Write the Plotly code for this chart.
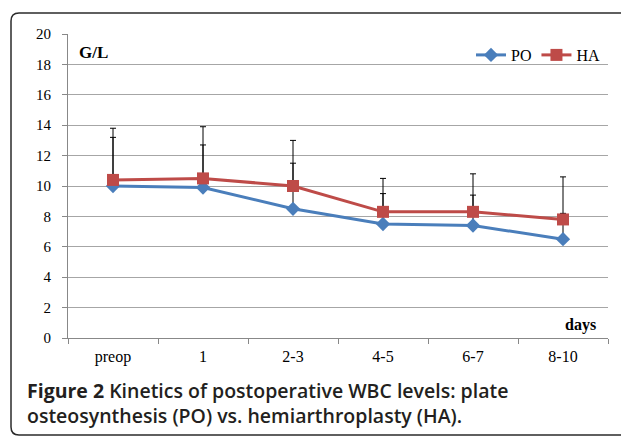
import plotly.graph_objects as go

categories = ["preop", "1", "2-3", "4-5", "6-7", "8-10"]
po_values = [10.0, 9.9, 8.5, 7.5, 7.4, 6.5]
po_err_plus = [3.2, 2.8, 3.0, 2.0, 2.0, 1.7]
ha_values = [10.4, 10.5, 10.0, 8.3, 8.3, 7.8]
ha_err_plus = [3.4, 3.4, 3.0, 2.2, 2.5, 2.8]
y_ticks = list(range(0, 21, 2))

W, H = 621, 436
L, R, T, B = 68, 13, 34, 98
PW, PH = W - L - R, H - T - B

def px(x):
    return (x - L) / PW

def py(y):
    return (H - B - y) / PH

serif = "Liberation Serif, Times New Roman, serif"
sans = "Open Sans, Noto Sans, sans-serif"

fig = go.Figure()
fig.add_trace(go.Scatter(
    x=categories, y=po_values, name="PO", mode="lines+markers",
    line=dict(color="#4a7ebb", width=3),
    marker=dict(symbol="diamond", size=11, color="#4a7ebb"),
    error_y=dict(type="data", array=po_err_plus, arrayminus=[0] * len(po_values),
                 symmetric=False, color="black", thickness=1, width=3),
))
fig.add_trace(go.Scatter(
    x=categories, y=ha_values, name="HA", mode="lines+markers",
    line=dict(color="#be4b48", width=3),
    marker=dict(symbol="square", size=12, color="#be4b48"),
    error_y=dict(type="data", array=ha_err_plus, arrayminus=[0] * len(ha_values),
                 symmetric=False, color="black", thickness=1, width=3),
))

# rounded border
xl, xr, yt, yb, r = 11, 640, 13, 435, 8
path = (f"M {px(xr)},{py(yb)} L {px(xl + r)},{py(yb)} "
        f"Q {px(xl)},{py(yb)} {px(xl)},{py(yb - r)} "
        f"L {px(xl)},{py(yt + r)} Q {px(xl)},{py(yt)} {px(xl + r)},{py(yt)} "
        f"L {px(xr)},{py(yt)}")
fig.add_shape(type="path", path=path, xref="paper", yref="paper",
              line=dict(color="#2b2b2b", width=1.5))

fig.add_annotation(text="<b>G/L</b>", xref="paper", yref="paper",
                   x=px(77), y=py(52), xanchor="left", yanchor="middle",
                   showarrow=False, font=dict(family=serif, size=17, color="black"))
fig.add_annotation(text="<b>days</b>", xref="paper", yref="paper",
                   x=px(598), y=py(325), xanchor="right", yanchor="middle",
                   showarrow=False, font=dict(family=serif, size=16, color="black"))
fig.add_annotation(
    text=("<b>Figure 2</b> Kinetics of postoperative WBC levels: plate<br>"
          "osteosynthesis (PO) vs. hemiarthroplasty (HA)."),
    xref="paper", yref="paper", x=px(25), y=py(403),
    xanchor="left", yanchor="middle", align="left", showarrow=False,
    font=dict(family=sans, size=19.5, color="#231f20", weight=600))

fig.update_layout(
    width=W, height=H,
    margin=dict(l=L, r=R, t=T, b=B),
    paper_bgcolor="white", plot_bgcolor="white",
    showlegend=True,
    legend=dict(orientation="h", x=px(606), y=py(55), xanchor="right",
                yanchor="middle", font=dict(family=serif, size=16, color="black"),
                bgcolor="rgba(0,0,0,0)", itemwidth=30, tracegroupgap=0),
    font=dict(family=serif, color="black"),
)
fig.update_xaxes(
    type="category", range=[-0.5, 5.5], tickson="boundaries",
    ticks="outside", ticklen=5, tickcolor="#888888",
    showline=True, linecolor="#888888", linewidth=1,
    showgrid=False, tickfont=dict(family=serif, size=16, color="black"),
    ticklabelstandoff=4,
)
fig.update_yaxes(
    range=[0, 20], tickvals=y_ticks, ticks="outside", ticklen=5,
    tickcolor="#888888", showline=True, linecolor="#888888", linewidth=1,
    showgrid=True, gridcolor="#a6a6a6", gridwidth=1, zeroline=False,
    tickfont=dict(family=serif, size=15, color="black"),
    ticklabelstandoff=8,
)

fig.write_html("out.html", config={"displayModeBar": False},
               post_script="document.body.style.margin='0';")
